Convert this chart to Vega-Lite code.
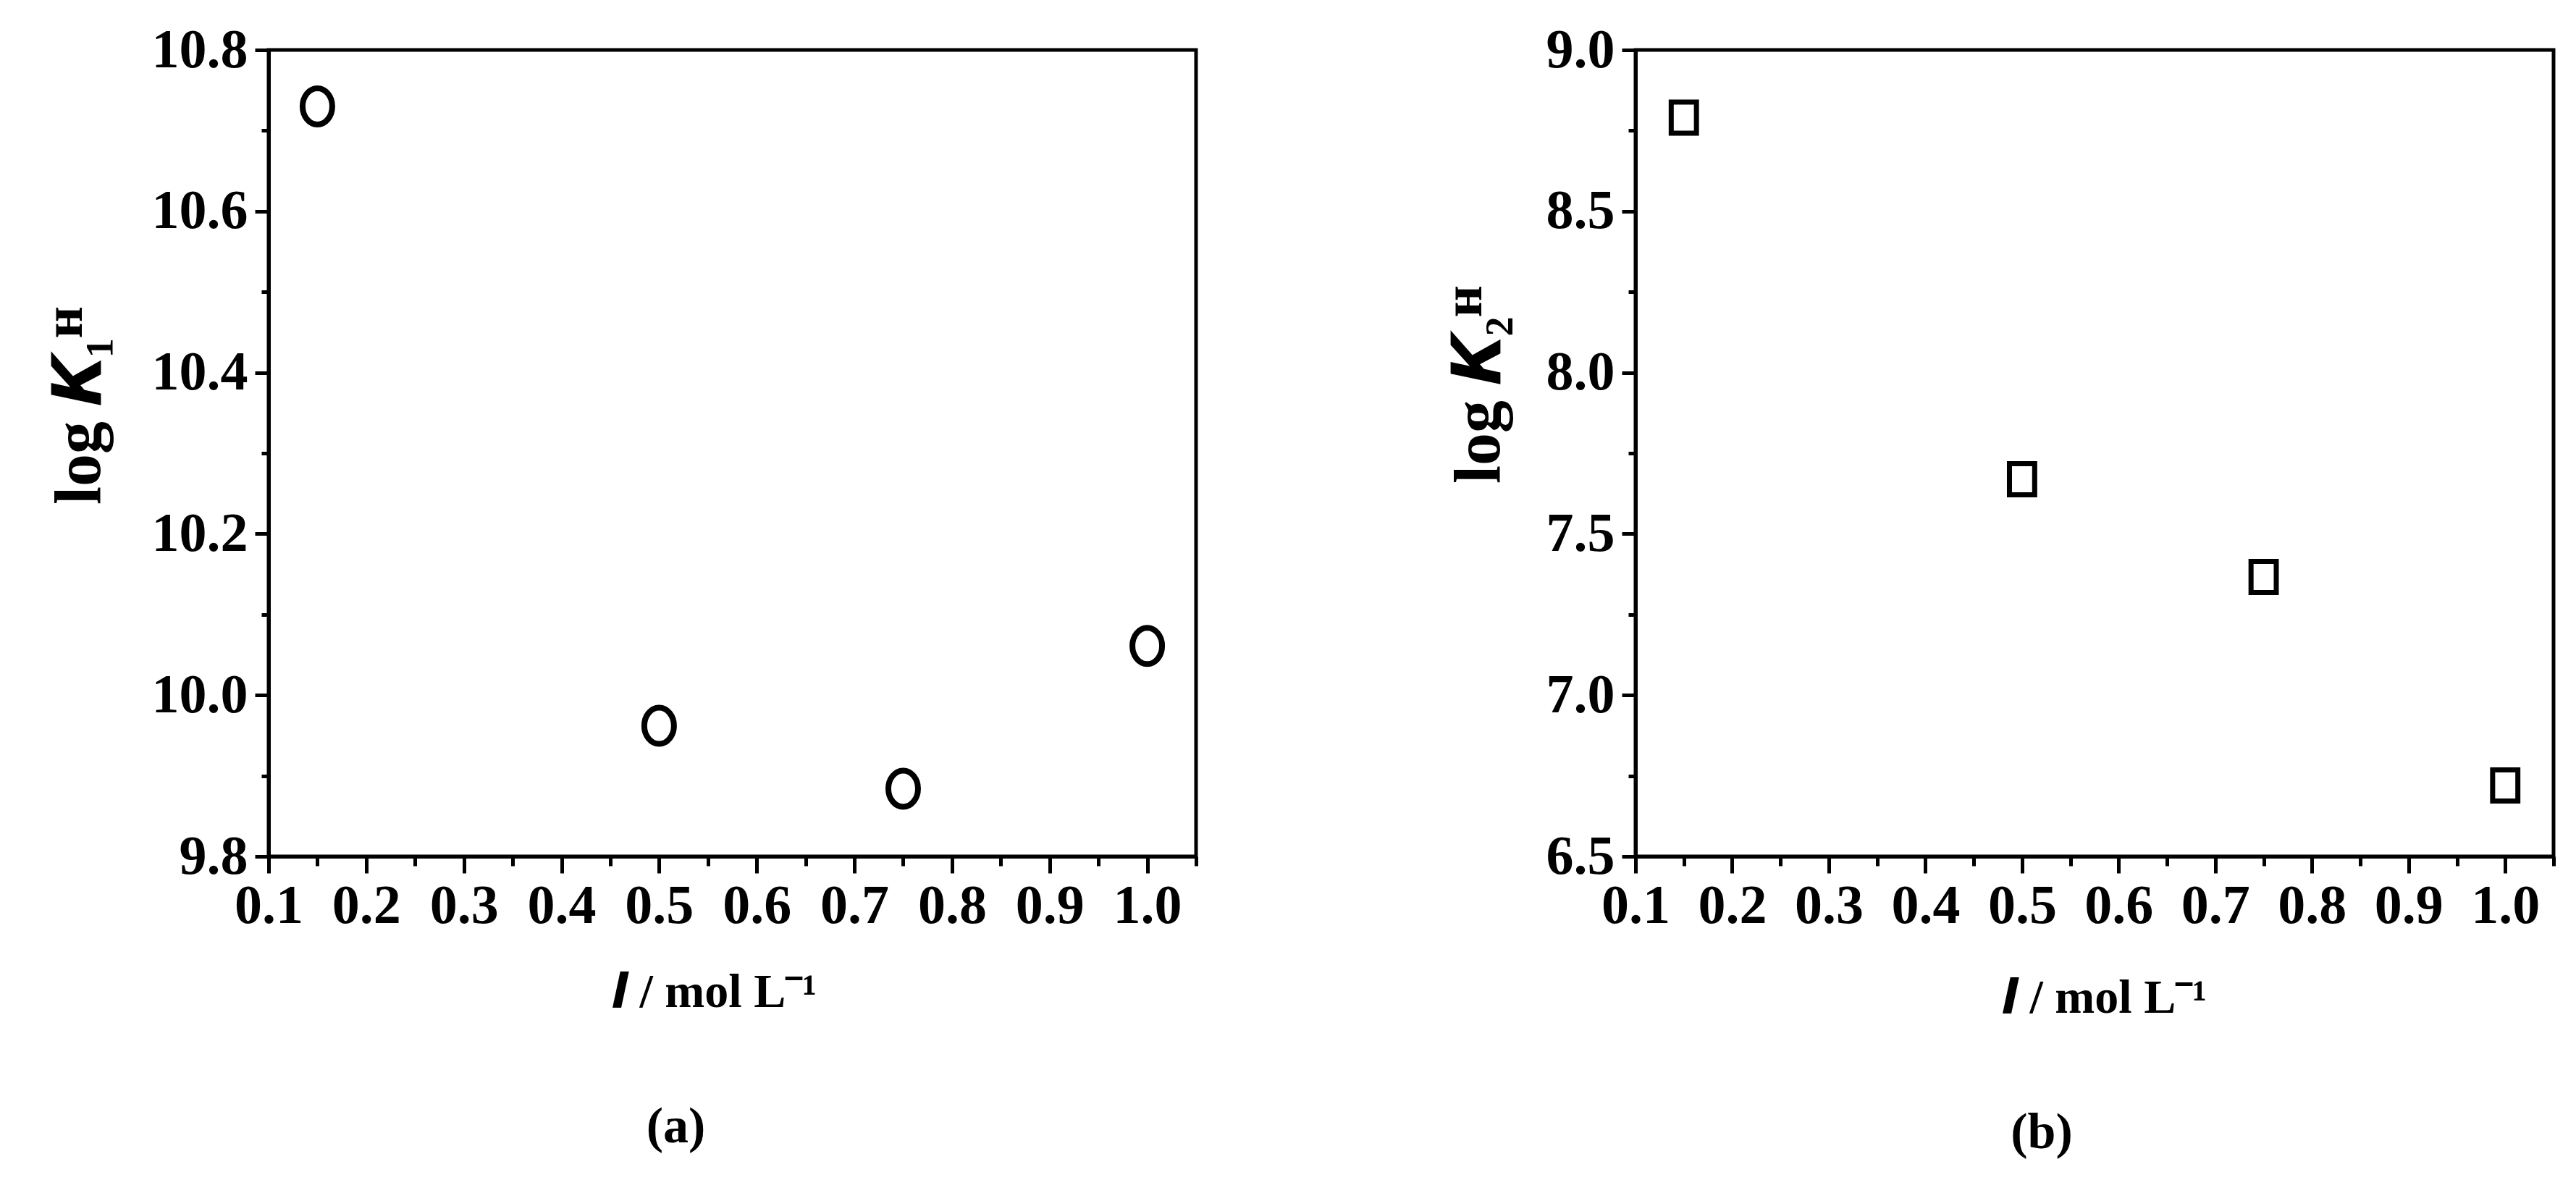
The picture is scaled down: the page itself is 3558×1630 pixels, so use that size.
{
  "$schema": "https://vega.github.io/schema/vega-lite/v6.json",
  "background": "white",
  "padding": {"left": 62, "top": 28, "right": 0, "bottom": 0},
  "datasets": {
    "k1": [
      {"I": 0.15, "logK": 10.73},
      {"I": 0.5, "logK": 9.962},
      {"I": 0.75, "logK": 9.884},
      {"I": 1.0, "logK": 10.061}
    ],
    "k2": [
      {"I": 0.15, "logK": 8.79},
      {"I": 0.5, "logK": 7.669},
      {"I": 0.75, "logK": 7.366},
      {"I": 1.0, "logK": 6.72}
    ]
  },
  "config": {
    "view": {"stroke": "black", "strokeWidth": 5},
    "axis": {
      "domainColor": "black", "domainWidth": 5, "tickColor": "black", "tickWidth": 5,
      "labelFont": "Liberation Serif", "labelFontWeight": "bold", "labelFontSize": 76, "labelColor": "black",
      "titleFont": "Liberation Serif", "titleFontWeight": "bold", "titleColor": "black",
      "grid": false, "labelOverlap": false, "labelFlush": false
    },
    "title": {"font": "Liberation Serif", "fontWeight": "bold", "fontSize": 70, "color": "black", "orient": "bottom", "anchor": "middle"}
  },
  "hconcat": [
    {
      "width": 1281, "height": 1114,
      "data": {"name": "k1"},
      "title": {"text": "(a)", "dx": -78, "offset": 120},
      "layer": [
        {
          "mark": {"type": "point", "shape": "M0,-1A0.82,1 0 1,1 0,1A0.82,1 0 1,1 0,-1Z", "size": 2500, "filled": false, "stroke": "black", "strokeWidth": 8, "opacity": 1},
          "encoding": {
            "x": {"field": "I", "type": "quantitative", "scale": {"domain": [0.1, 1.05], "nice": false, "zero": false},
              "axis": {"orient": "bottom", "values": [0.1,0.2,0.3,0.4,0.5,0.6,0.7,0.8,0.9,1.0], "format": ".1f", "tickSize": 23, "labelPadding": 8,
                "title": "𝑰 / mol L⁻¹", "titleFontSize": 66, "titleBaseline": "alphabetic", "titleY": 207, "titleX": 616}},
            "y": {"field": "logK", "type": "quantitative", "scale": {"domain": [9.8, 10.8], "nice": false, "zero": false},
              "axis": {"orient": "left", "values": [9.8,10.0,10.2,10.4,10.6,10.8], "format": ".1f", "tickSize": 19, "labelPadding": 10,
                "title": "log 𝑲₁ᴴ", "titleFontSize": 90, "titleBaseline": "alphabetic", "titleX": -234, "titleY": 491, "titleAlign": "center", "titleAngle": -90}}
          }
        },
        {
          "mark": {"type": "point", "opacity": 0},
          "encoding": {
            "x": {"field": "I", "type": "quantitative", "scale": {"domain": [0.1, 1.05], "nice": false, "zero": false},
              "axis": {"orient": "bottom", "values": [0.15,0.25,0.35,0.45,0.55,0.65,0.75,0.85,0.95,1.05], "labels": false, "domain": false, "tickSize": 13, "title": null}},
            "y": {"field": "logK", "type": "quantitative", "scale": {"domain": [9.8, 10.8], "nice": false, "zero": false},
              "axis": {"orient": "left", "values": [9.9,10.1,10.3,10.5,10.7], "labels": false, "domain": false, "tickSize": 10, "title": null}}
          }
        }
      ],
      "resolve": {"axis": {"x": "independent", "y": "independent"}}
    },
    {
      "width": 1268, "height": 1114,
      "data": {"name": "k2"},
      "title": {"text": "(b)", "dx": -73, "offset": 120},
      "layer": [
        {
          "mark": {"type": "point", "shape": "M-0.81,-1H0.81V1H-0.81Z", "size": 1849, "filled": false, "stroke": "black", "strokeWidth": 7, "opacity": 1},
          "encoding": {
            "x": {"field": "I", "type": "quantitative", "scale": {"domain": [0.1, 1.05], "nice": false, "zero": false},
              "axis": {"orient": "bottom", "values": [0.1,0.2,0.3,0.4,0.5,0.6,0.7,0.8,0.9,1.0], "format": ".1f", "tickSize": 23, "labelPadding": 8,
                "title": "𝑰 / mol L⁻¹", "titleFontSize": 66, "titleBaseline": "alphabetic", "titleY": 215, "titleX": 648}},
            "y": {"field": "logK", "type": "quantitative", "scale": {"domain": [6.5, 9.0], "nice": false, "zero": false},
              "axis": {"orient": "left", "values": [6.5,7.0,7.5,8.0,8.5,9.0], "format": ".1f", "tickSize": 19, "labelPadding": 10,
                "title": "log 𝑲₂ᴴ", "titleFontSize": 90, "titleBaseline": "alphabetic", "titleX": -189, "titleY": 462, "titleAlign": "center", "titleAngle": -90}}
          }
        },
        {
          "mark": {"type": "point", "opacity": 0},
          "encoding": {
            "x": {"field": "I", "type": "quantitative", "scale": {"domain": [0.1, 1.05], "nice": false, "zero": false},
              "axis": {"orient": "bottom", "values": [0.15,0.25,0.35,0.45,0.55,0.65,0.75,0.85,0.95,1.05], "labels": false, "domain": false, "tickSize": 13, "title": null}},
            "y": {"field": "logK", "type": "quantitative", "scale": {"domain": [6.5, 9.0], "nice": false, "zero": false},
              "axis": {"orient": "left", "values": [6.75,7.25,7.75,8.25,8.75], "labels": false, "domain": false, "tickSize": 10, "title": null}}
          }
        }
      ],
      "resolve": {"axis": {"x": "independent", "y": "independent"}}
    }
  ],
  "bounds": "flush",
  "spacing": 607
}
